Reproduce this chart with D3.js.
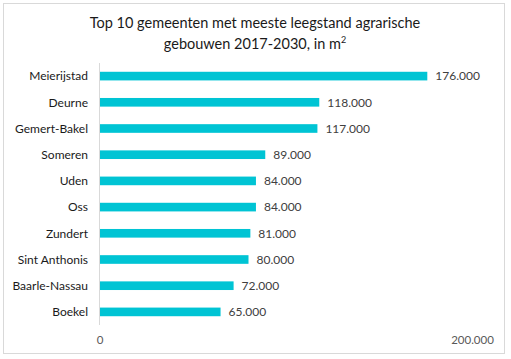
<!DOCTYPE html>
<html>
<head>
<meta charset="utf-8">
<script src="https://cdn.jsdelivr.net/npm/d3@7"></script>
<style>
  body { margin: 0; background: #fff; }
  svg { display: block; font-family: "Lato", "Noto Sans", sans-serif; }
</style>
</head>
<body>
<svg id="chart" width="511" height="359"></svg>
<script>
// data
var gemeenten = ['Meierijstad', 'Deurne', 'Gemert-Bakel', 'Someren', 'Uden', 'Oss', 'Zundert', 'Sint Anthonis', 'Baarle-Nassau', 'Boekel'];
var leegstand = [176000, 118000, 117000, 89000, 84000, 84000, 81000, 80000, 72000, 65000];
var xTicks = [0, 200000];
var titleLines = ['Top 10 gemeenten met meeste leegstand agrarische', 'gebouwen 2017-2030, in m'];

var svg = d3.select('#chart');
var fmt = function(v) { return d3.format(',')(v).replace(/,/g, '.'); };

// frame
svg.append('rect')
    .attr('x', 3.5).attr('y', 3.5)
    .attr('width', 501).attr('height', 350)
    .attr('fill', '#fff')
    .attr('stroke', '#d9d9d9')
    .attr('stroke-width', 1);

// title
var title = svg.append('text')
    .attr('text-anchor', 'middle')
    .attr('fill', '#1a1a1a')
    .style('font-size', '14.5px');
title.append('tspan').attr('x', 255).attr('y', 28).text(titleLines[0]);
var l2 = title.append('tspan').attr('x', 255).attr('y', 49).text(titleLines[1]);
title.append('tspan').attr('dy', -6).style('font-size', '9px').text('2');

var data = gemeenten.map(function(g, i) { return { name: g, value: leegstand[i] }; });

var x = d3.scaleLinear().domain([0, 200000]).range([99.5, 472]);
var y = d3.scaleBand().domain(gemeenten).range([63, 325]).paddingInner(0.67).paddingOuter(0.335);

// axis line
svg.append('line')
    .attr('x1', x(0)).attr('x2', x(0))
    .attr('y1', 63).attr('y2', 325)
    .attr('stroke', '#d9d9d9');

// bars
svg.selectAll('rect.bar')
    .data(data)
    .enter().append('rect')
    .attr('class', 'bar')
    .attr('x', x(0) + 0.5)
    .attr('y', function(d) { return y(d.name); })
    .attr('width', function(d) { return x(d.value) - x(0) - 0.5; })
    .attr('height', y.bandwidth())
    .attr('fill', '#00c4d4');

// category labels
svg.selectAll('text.cat')
    .data(data)
    .enter().append('text')
    .attr('class', 'cat')
    .attr('x', 88)
    .attr('y', function(d) { return y(d.name) + y.bandwidth() / 2; })
    .attr('dy', '0.35em')
    .attr('text-anchor', 'end')
    .attr('fill', '#1a1a1a')
    .style('font-size', '12px')
    .text(function(d) { return d.name; });

// value labels
svg.selectAll('text.val')
    .data(data)
    .enter().append('text')
    .attr('class', 'val')
    .attr('x', function(d) { return x(d.value) + 8; })
    .attr('y', function(d) { return y(d.name) + y.bandwidth() / 2; })
    .attr('dy', '0.35em')
    .attr('fill', '#404040')
    .style('font-size', '12px')
    .text(function(d) { return fmt(d.value); });

// x axis tick labels
var xAxis = d3.axisBottom(x).tickValues(xTicks).tickSize(0).tickPadding(0).tickFormat(fmt);
var gx = svg.append('g')
    .attr('transform', 'translate(0,336)')
    .call(xAxis);
gx.select('.domain').remove();
gx.selectAll('text')
    .attr('fill', '#595959')
    .style('font-size', '11.5px')
    .style('font-family', '"Lato", "Noto Sans", sans-serif');
</script>
</body>
</html>
